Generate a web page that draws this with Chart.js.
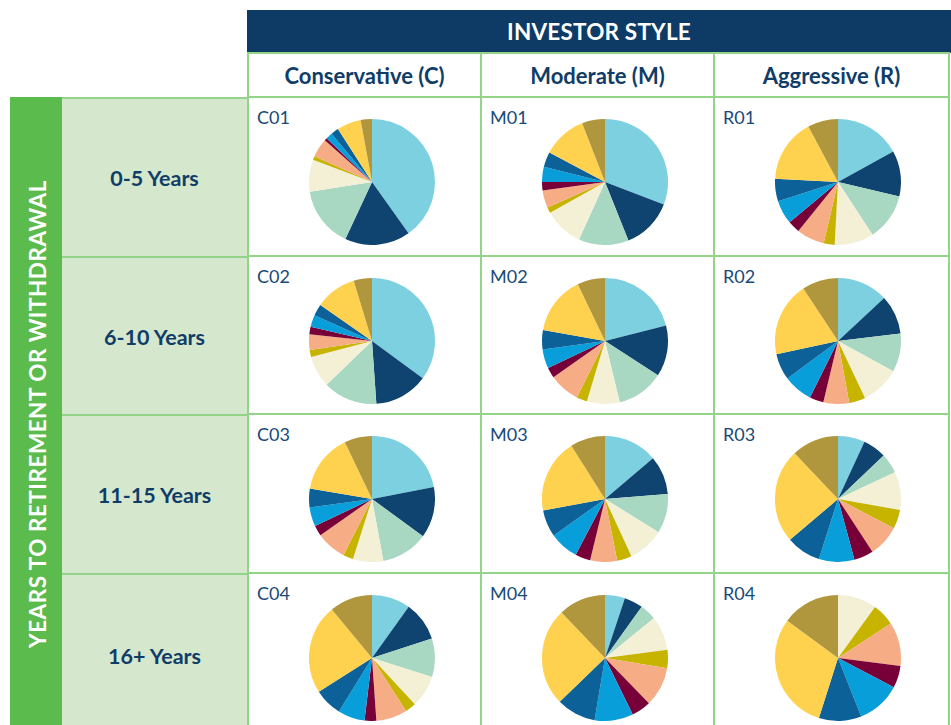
<!DOCTYPE html>
<html>
<head>
  <meta charset="UTF-8">
  <title>Investor Style Allocations</title>
  <script src="https://cdn.jsdelivr.net/npm/chart.js@4.4.1/dist/chart.umd.min.js"></script>
  <style>
    body {
      margin: 0;
      padding: 0;
      background: #fff;
      font-family: Lato, "Open Sans", Arial, sans-serif;
      width: 951px;
      height: 725px;
      overflow: hidden;
      position: relative;
    }
    .box { position: absolute; box-sizing: border-box; }
    .band {
      background: #0d3b66; color: #fff;
      font-weight: bold; font-size: 22.5px; letter-spacing: 0.2px;
      display: flex; align-items: center; justify-content: center;
    }
    .colhead, .cell {
      border: 2px solid #93d488;
      background: #fff;
    }
    .colhead {
      color: #0f3d68; font-weight: bold; font-size: 22px;
      display: flex; align-items: center; justify-content: center;
    }
    .side { background: #5cbb4d; }
    .side span {
      position: absolute; left: 50%; top: 317px;
      transform: translate(-50%, -50%) rotate(-90deg);
      white-space: nowrap; color: #fff; font-weight: bold; font-size: 22.5px;
      letter-spacing: 0.5px;
    }
    .rowlab {
      background: #d5e8cd;
      border-top: 2px solid #93d488;
      color: #0f3d68; font-weight: bold; font-size: 21.5px;
      display: flex; align-items: center; justify-content: center;
    }
    .tag {
      position: absolute; left: 8px; top: 8px;
      color: #184a78; font-size: 18px;
    }
    canvas { position: absolute; }
  </style>
</head>
<body>
  <script>
    // asset classes, clockwise from 12 o'clock
    const categories = ['Light blue', 'Navy', 'Mint', 'Cream', 'Olive', 'Salmon',
                        'Maroon', 'Bright blue', 'Mid blue', 'Yellow', 'Gold'];
    const palette = ['#7cd0e0', '#0f4470', '#a8d7c2', '#f3f0d6', '#c6b400', '#f6ac84',
                     '#780039', '#089ed9', '#0b6198', '#fed24e', '#b0963c'];

    const columns = ['Conservative (C)', 'Moderate (M)', 'Aggressive (R)'];
    const rowLabels = ['0-5 Years', '6-10 Years', '11-15 Years', '16+ Years'];

    // percentages
    const C01 = [40.2, 16.8, 15.6, 8.2, 1.0, 4.8, 0.7, 1.7, 2.0, 6.2, 2.9];
    const M01 = [30.8, 13.1, 12.8, 10.1, 1.5, 4.5, 2.1, 3.9, 3.9, 11.3, 5.9];
    const R01 = [17.0, 11.7, 12.1, 10.1, 2.8, 7.2, 3.1, 6.1, 5.8, 16.4, 7.8];
    const C02 = [35.1, 13.8, 13.9, 8.1, 1.8, 4.0, 1.9, 3.1, 3.0, 10.6, 4.7];
    const M02 = [21.0, 13.1, 12.1, 8.4, 2.7, 7.9, 2.7, 4.9, 4.9, 15.1, 7.1];
    const R02 = [13.1, 10.0, 9.9, 10.0, 4.2, 6.6, 3.6, 7.5, 6.8, 19.1, 9.3];
    const C03 = [22.0, 13.1, 12.1, 7.8, 2.6, 7.8, 2.7, 4.9, 4.8, 15.3, 7.1];
    const M03 = [13.8, 10.0, 10.1, 9.3, 3.8, 6.9, 3.9, 7.5, 6.9, 19.0, 9.0];
    const R03 = [6.9, 6.0, 5.1, 9.8, 4.9, 8.1, 5.0, 9.1, 8.9, 24.1, 12.1];
    const C04 = [9.9, 10.1, 9.9, 8.2, 2.8, 8.0, 3.0, 6.9, 7.2, 23.0, 11.0];
    const M04 = [5.1, 4.8, 4.2, 8.8, 4.7, 10.1, 5.0, 9.9, 10.1, 25.1, 12.1];
    const R04 = [0, 0, 0, 10.0, 5.8, 11.2, 5.7, 11.3, 10.9, 30.2, 14.9];

    const grid = [
      [['C01', C01], ['M01', M01], ['R01', R01]],
      [['C02', C02], ['M02', M02], ['R02', R02]],
      [['C03', C03], ['M03', M03], ['R03', R03]],
      [['C04', C04], ['M04', M04], ['R04', R04]]
    ];

    const colLeft = [247, 480, 713];
    const colWidth = [235, 235, 237];
    const rowTop = [96, 255, 413, 572];
    const rowHeight = [161, 160, 161, 164];
    const pieSize = 126;

    function addBox(cls, x, y, w, h, html) {
      const d = document.createElement('div');
      d.className = 'box ' + cls;
      d.style.left = x + 'px';
      d.style.top = y + 'px';
      d.style.width = w + 'px';
      d.style.height = h + 'px';
      if (html) d.innerHTML = html;
      document.body.appendChild(d);
      return d;
    }

    addBox('band', 247, 10, 704, 43, 'INVESTOR STYLE');

    columns.forEach((c, i) => addBox('colhead', colLeft[i], 52, colWidth[i], 46, c));

    addBox('side', 10, 97, 53, 640, '<span>YEARS TO RETIREMENT OR WITHDRAWAL</span>');

    rowLabels.forEach((r, i) => addBox('rowlab', 62, rowTop[i] + 1, 185, rowHeight[i] - 1, r));

    grid.forEach((row, ri) => {
      row.forEach(([tag, values], ci) => {
        addBox('cell', colLeft[ci], rowTop[ri], colWidth[ci], rowHeight[ri],
               '<span class="tag">' + tag + '</span>');
        const cv = document.createElement('canvas');
        cv.width = pieSize;
        cv.height = pieSize;
        cv.style.left = (colLeft[ci] + 125 - pieSize / 2) + 'px';
        cv.style.top = (rowTop[ri] + 86 - pieSize / 2) + 'px';
        cv.style.width = pieSize + 'px';
        cv.style.height = pieSize + 'px';
        document.body.appendChild(cv);

        new Chart(cv.getContext('2d'), {
          type: 'pie',
          data: {
            labels: categories,
            datasets: [{ data: values, backgroundColor: palette, borderWidth: 0 }]
          },
          options: {
            responsive: false,
            animation: false,
            plugins: { legend: { display: false }, tooltip: { enabled: false } }
          }
        });
      });
    });
  </script>
</body>
</html>
